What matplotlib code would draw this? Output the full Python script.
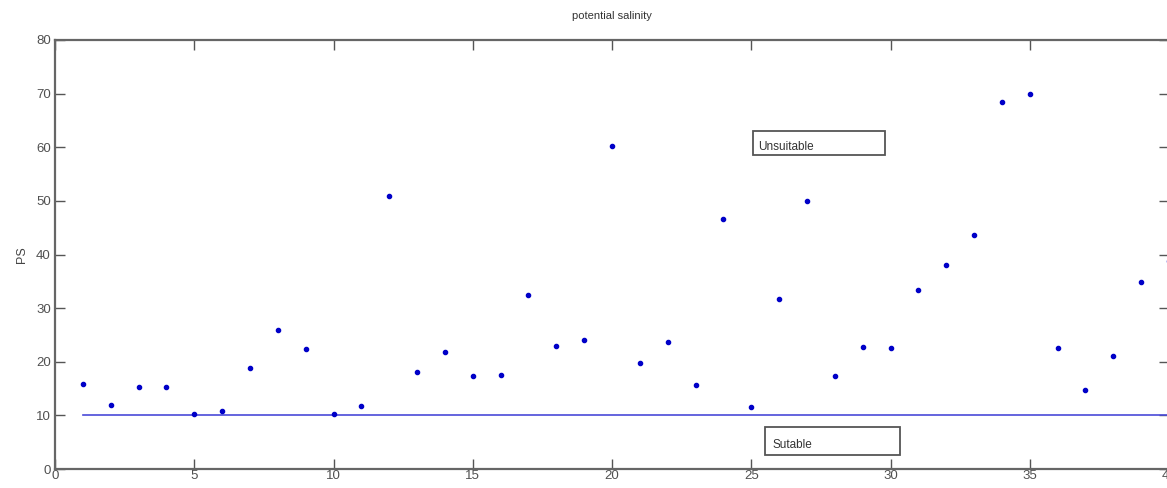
import matplotlib
matplotlib.use("Agg")
import matplotlib.pyplot as plt
from matplotlib.patches import Rectangle

# sample index and potential salinity values
x = list(range(1, 41))
ps = [15.9, 12.0, 15.2, 15.2, 10.2, 10.9, 18.8, 26.0, 22.3, 10.2,
      11.7, 50.9, 18.0, 21.9, 17.3, 17.5, 32.4, 23.0, 24.1, 60.2,
      19.8, 23.7, 15.7, 46.6, 11.6, 31.7, 50.0, 17.3, 22.8, 22.5,
      33.4, 38.0, 43.6, 68.4, 70.0, 22.5, 14.8, 21.1, 34.9, 38.7]
limit = [10] * len(x)

xticks = [0, 5, 10, 15, 20, 25, 30, 35, 40]
yticks = [0, 10, 20, 30, 40, 50, 60, 70, 80]

plt.rcParams['font.family'] = ['Liberation Sans', 'DejaVu Sans']
grey = '#555555'

fig = plt.figure(figsize=(11.67, 4.88), dpi=100)
ax = fig.add_axes([55/1167, 19/488, 1114/1167, 429/488])

ax.plot(x, limit, color='#4a4ad8', lw=1.2)
ax.plot(x, ps, '.', color='#0000c8', ms=6)

ax.set_xlim(0, 40)
ax.set_ylim(0, 80)
ax.set_xticks(xticks)
ax.set_yticks(yticks)
ax.tick_params(direction='in', length=7.5, width=1, color=grey,
               labelcolor='#505050', top=True, right=True, labelsize=9.5, pad=3)
ax.tick_params(axis='x', pad=1)
for s in ax.spines.values():
    s.set_color('#666666')
    s.set_linewidth(1.6)

ax.set_title('potential salinity', fontsize=8, color='#333333', pad=15)
ax.set_ylabel('PS', fontsize=9, color='#444444', labelpad=6)

# annotation boxes
ax.add_patch(Rectangle((25.05, 58.6), 4.75, 4.4, fill=False, ec='#555555', lw=1.3))
ax.text(25.25, 58.9, 'Unsuitable', fontsize=8.5, color='#333333', va='bottom')
ax.add_patch(Rectangle((25.5, 2.6), 4.85, 5.2, fill=False, ec='#555555', lw=1.3))
ax.text(25.75, 3.3, 'Sutable', fontsize=8.5, color='#333333', va='bottom')

fig.savefig('out.png', dpi=100)
